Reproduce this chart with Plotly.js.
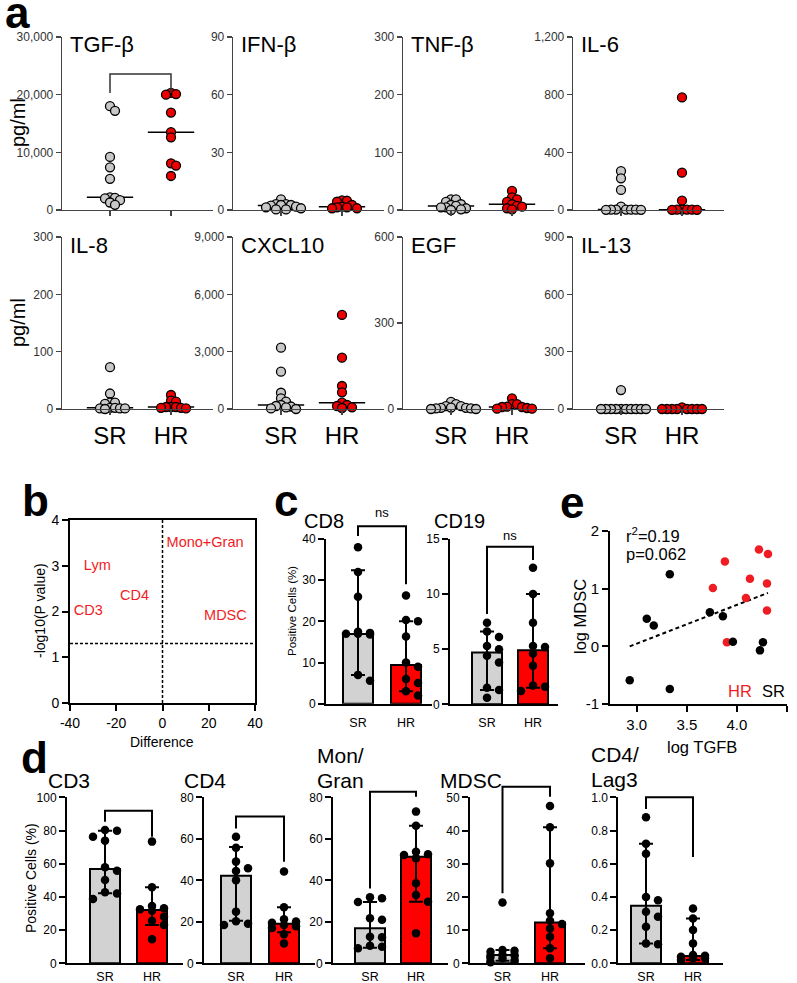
<!DOCTYPE html>
<html>
<head>
<meta charset="utf-8">
<script src="https://cdn.plot.ly/plotly-3.0.1.min.js"></script>
<style>
  html, body { margin: 0; padding: 0; background: #fff; }
  #chart { width: 797px; height: 983px; }
</style>
</head>
<body>
<div id="chart"></div>
<script>
// ---- a: cytokine levels (pg/ml), SR vs HR
const cytoNames = ['TGF-β', 'IFN-β', 'TNF-β', 'IL-6', 'IL-8', 'CXCL10', 'EGF', 'IL-13'];
const cytoMax = [30000, 90, 300, 1200, 300, 9000, 600, 900];
const cytoTicks = [[0, 10000, 20000, 30000], [0, 30, 60, 90], [0, 100, 200, 300], [0, 400, 800, 1200],
                   [0, 100, 200, 300], [0, 3000, 6000, 9000], [0, 300, 600], [0, 300, 600, 900]];
const groups = ['SR', 'HR'];

const srTGF = [18000, 17200, 9200, 7400, 5400, 2200, 2100, 2000, 1700, 1300, 900];
const hrTGF = [20300, 20100, 20000, 16900, 13500, 12600, 8100, 7700, 5900];
const srIFN = [5.5, 3.1, 3.1, 2.6, 2.6, 2.3, 1.8, 1.4, 0.9, 0.3, 0.3];
const hrIFN = [5.0, 4.8, 4.3, 2.6, 1.7, 1.4, 1.4, 0.9, 0.9];
const srTNF = [18.5, 18.5, 14, 10, 8.7, 7, 4.7, 4.7, 3, 1.2, 0];
const hrTNF = [33, 22, 18.5, 14, 10, 7, 5.8, 3, 1.2];
const srIL6 = [270, 220, 139, 23, 3, 3, 2, 2, 2, 1, 1];
const hrIL6 = [781, 259, 65, 3, 2, 2, 2, 1, 1];
const srIL8 = [73, 27, 11, 11, 9, 2, 2, 1, 1, 1, 0];
const hrIL8 = [24.4, 14.5, 12.8, 3.5, 3.5, 3.5, 2, 2, 1];
const srCXCL10 = [3209, 1953, 850, 560, 382, 209, 157, 130, 80, 30, 0];
const hrCXCL10 = [4921, 2687, 1204, 874, 330, 209, 157, 89, 52];
const srEGF = [25, 17, 10, 10, 5, 4, 4, 2, 2, 0, 0];
const hrEGF = [37, 17, 17, 8, 7, 7, 3.5, 1, 1];
const srIL13 = [99, 0, 0, 0, 0, 0, 0, 0, 0, 0, 0];
const hrIL13 = [9, 0, 0, 0, 0, 0, 0, 0, 0];

// ---- b: difference vs -log10(P)
const volcanoLabels = ['Lym', 'CD4', 'CD3', 'Mono+Gran', 'MDSC'];
const volcanoDiff = [-28.2, -12.1, -32.1, 18.4, 27.2];
const volcanoLogP = [2.98, 2.32, 2.0, 3.49, 1.90];

// ---- c, d: positive cells (%), bar = median, whiskers = CI
const cd8SR = [38, 32, 26, 17.5, 17.2, 17, 17, 16.8, 7, 5.6];
const cd8HR = [26.3, 20.3, 20, 16.3, 10, 9, 6, 5, 3, 2];
const cd8Bar = [16.9, 9.4], cd8Hi = [32.4, 20], cd8Lo = [7, 3];
const cd19SR = [7.4, 6.6, 6.1, 5.3, 5.0, 4.4, 3.8, 1.5, 1.3, 0.6];
const cd19HR = [12.4, 10, 7.4, 5.3, 5.2, 4.6, 3.5, 1.7, 1.6, 1.2];
const cd19Bar = [4.7, 4.9], cd19Hi = [6.6, 10], cd19Lo = [1.3, 1.5];

const cd3SR = [80.3, 79.9, 76.3, 73.9, 57.8, 55.8, 50.2, 42.8, 42, 38.7];
const cd3HR = [73.3, 45.8, 34.5, 33.2, 32.5, 31.7, 28, 25.7, 23.1, 14.5];
const cd3Bar = [56.8, 32.1], cd3Hi = [79.9, 45.8], cd3Lo = [42.2, 23];
const cd4SR = [61, 55.7, 49, 45.8, 44.5, 40, 24.9, 20.3, 19.1, 18.5];
const cd4HR = [44.2, 27, 21.2, 20.1, 19.5, 18.5, 17.8, 17, 14, 9.6];
const cd4Bar = [42.2, 19], cd4Hi = [56, 27], cd4Lo = [20.5, 15];
const monSR = [31.8, 31.3, 29.5, 21.7, 21, 12.8, 12.5, 8.5, 8, 7.2];
const monHR = [73.1, 66.3, 53.8, 52.5, 52.2, 50.6, 38.6, 32.9, 29.7, 14.5];
const monBar = [16.9, 51.4], monHi = [29.5, 66.3], monLo = [7.5, 29.7];
const mdscSR = [18.3, 4.0, 3.8, 3.5, 2.6, 2.4, 2.0, 1.5, 0.8, 0.3];
const mdscHR = [47.4, 41, 30.1, 15.1, 12.8, 11.8, 10.5, 8, 4.5, 1.5];
const mdscBar = [2.5, 12.3], mdscHi = [4.0, 41], mdscLo = [0.8, 4.5];
const lag3SR = [0.88, 0.72, 0.66, 0.40, 0.38, 0.31, 0.28, 0.22, 0.12, 0.115];
const lag3HR = [0.33, 0.27, 0.20, 0.12, 0.05, 0.045, 0.04, 0.03, 0.03, 0.02];
const lag3Bar = [0.347, 0.044], lag3Hi = [0.72, 0.27], lag3Lo = [0.12, 0.02];

// ---- e: log TGFB vs log MDSC
const tgfSR = [3.33, 3.10, 3.17, 3.73, 3.86, 3.96, 4.26, 4.23, 2.93, 3.33];
const mdscLogSR = [1.25, 0.48, 0.36, 0.59, 0.52, 0.08, 0.07, -0.07, -0.59, -0.74];
const tgfHR = [4.22, 4.31, 3.88, 3.76, 4.13, 4.30, 4.09, 4.30, 3.90];
const mdscLogHR = [1.68, 1.60, 1.47, 1.01, 1.17, 1.09, 0.84, 0.62, 0.07];

const W = 797, H = 983;
const FONT = '"Liberation Sans", Arial, sans-serif';
const GREY = '#c8c8c8', RED = '#ee0000', BARGREY = '#d2d2d2', BARRED = '#ff0000', TXTRED = '#ef1c24';

const layout = {
    width: W, height: H,
    margin: {l: 0, r: 0, t: 0, b: 0},
    paper_bgcolor: '#fff', plot_bgcolor: 'rgba(0,0,0,0)',
    showlegend: false,
    font: {family: FONT, color: '#000'},
    shapes: [], annotations: []
};
const traces = [];
let nAx = 0;

function addAxes(box, xr, yr, xo, yo) {
    nAx++;
    const s = nAx === 1 ? '' : String(nAx);
    layout['xaxis' + s] = Object.assign({domain: [box.l / W, box.r / W], range: xr, anchor: 'y' + s,
        showgrid: false, zeroline: false, fixedrange: true}, xo);
    layout['yaxis' + s] = Object.assign({domain: [1 - box.b / H, 1 - box.t / H], range: yr, anchor: 'x' + s,
        showgrid: false, zeroline: false, fixedrange: true}, yo);
    return {x: 'x' + s, y: 'y' + s, box, xr, yr};
}

function toPaper(ax, xv, yv) {
    const b = ax.box;
    const fx = (xv - ax.xr[0]) / (ax.xr[1] - ax.xr[0]);
    const fy = (yv - ax.yr[0]) / (ax.yr[1] - ax.yr[0]);
    return [(b.l + fx * (b.r - b.l)) / W, 1 - (b.b - fy * (b.b - b.t)) / H];
}

function bracket(ax, top, left, right, color, width) {
    const [x0, yT] = toPaper(ax, 0, top);
    const x1 = toPaper(ax, 1, top)[0];
    const yL = toPaper(ax, 0, left)[1], yR = toPaper(ax, 0, right)[1];
    layout.shapes.push({type: 'path', xref: 'paper', yref: 'paper',
        path: `M${x0},${yL} L${x0},${yT} L${x1},${yT} L${x1},${yR}`, line: {color, width}});
}

function note(text, x, y, size, extra) {
    layout.annotations.push(Object.assign({text, x: x / W, y: 1 - y / H, xref: 'paper', yref: 'paper',
        showarrow: false, xanchor: 'center', yanchor: 'middle',
        font: {family: FONT, size, color: '#000'}}, extra || {}));
}

function median(v) {
    const s = [...v].sort((a, b) => a - b), n = s.length;
    return n % 2 ? s[(n - 1) / 2] : (s[n / 2 - 1] + s[n / 2]) / 2;
}

// simple beeswarm: horizontal pixel offsets so dots don't pile up
function swarm(vals, pyu, step, d, maxK) {
    const order = vals.map((v, i) => i).sort((a, b) => vals[b] - vals[a]);
    const placed = [], off = vals.map(() => 0);
    order.forEach(i => {
        const y = vals[i] * pyu;
        let best = 0, bestGap = -1;
        for (let k = 0; k <= 2 * maxK; k++) {
            const o = (k % 2 ? 1 : -1) * Math.ceil(k / 2) * step;
            const gap = placed.length ? Math.min(...placed.map(p => Math.hypot(p[0] - o, p[1] - y))) : Infinity;
            if (gap >= d) { best = o; bestGap = gap; break; }
            if (gap > bestGap) { best = o; bestGap = gap; }
        }
        off[i] = best;
        placed.push([best, y]);
    });
    return off;
}

// ---------- panel a
const cytoSR = [srTGF, srIFN, srTNF, srIL6, srIL8, srCXCL10, srEGF, srIL13];
const cytoHR = [hrTGF, hrIFN, hrTNF, hrIL6, hrIL8, hrCXCL10, hrEGF, hrIL13];
const aAxes = [];
cytoNames.forEach((name, i) => {
    const row = Math.floor(i / 4), col = i % 4;
    const l = [62, 233, 403, 573][col];
    const box = {l, r: l + 151, t: row ? 237 : 37, b: row ? 409 : 210};
    const unit = 61;
    const ax = addAxes(box, [-48 / unit, 103 / unit], [0, cytoMax[i]],
        {tickvals: [0, 1], ticktext: groups, showticklabels: row === 1, ticks: 'outside', ticklen: 5,
         tickwidth: 1.3, tickcolor: '#444', showline: true, linecolor: '#444', linewidth: 1.3,
         tickfont: {size: 24, color: '#000'}},
        {tickvals: cytoTicks[i], tickformat: ',d', ticks: 'outside', ticklen: 5, tickwidth: 1.3,
         tickcolor: '#444', showline: true, linecolor: '#444', linewidth: 1.3,
         tickfont: {size: 12, color: '#333'}});
    aAxes.push(ax);
    const pyu = (box.b - box.t) / cytoMax[i];
    [cytoSR[i], cytoHR[i]].forEach((vals, g) => {
        const m = median(vals);
        traces.push({type: 'scatter', mode: 'lines', x: [g - 0.38, g + 0.38], y: [m, m],
            xaxis: ax.x, yaxis: ax.y, line: {color: '#000', width: 1.5}, cliponaxis: false, hoverinfo: 'skip'});
    });
    [cytoSR[i], cytoHR[i]].forEach((vals, g) => {
        const off = swarm(vals, pyu, 5, 5, 6);
        traces.push({type: 'scatter', mode: 'markers', x: vals.map((v, k) => g + off[k] / unit), y: vals,
            xaxis: ax.x, yaxis: ax.y, cliponaxis: false, name: groups[g],
            marker: {size: 9, color: g ? RED : GREY, line: {color: '#000', width: 1.3}}});
    });
    note(name, l + 6, row ? 245 : 44, 22, {xanchor: 'left'});
});
bracket(aAxes[0], 23600, 20300, 20300, '#333', 1.5);
note('pg/ml', 18, 123, 20, {textangle: -90});
note('pg/ml', 18, 323, 20, {textangle: -90});

// ---------- panel b
const boxAxis = {ticks: 'outside', ticklen: 6, tickwidth: 2, tickcolor: '#000', showline: true,
    linecolor: '#000', linewidth: 2};
const axB = addAxes({l: 70, r: 255, t: 520, b: 703}, [-40, 40], [0, 4],
    Object.assign({tickvals: [-40, -20, 0, 20, 40], ticktext: ['-40', '-20', '0', '20', '40'], mirror: true,
        tickfont: {size: 14}}, boxAxis),
    Object.assign({tickvals: [0, 1, 2, 3, 4], mirror: true, tickfont: {size: 14}}, boxAxis));
const pCut = -Math.log10(0.05);
layout.shapes.push({type: 'line', xref: axB.x, yref: axB.y, x0: 0, x1: 0, y0: 0, y1: 4,
    line: {color: '#000', width: 1.5, dash: '3px,2px'}});
layout.shapes.push({type: 'line', xref: axB.x, yref: axB.y, x0: -40, x1: 40, y0: pCut, y1: pCut,
    line: {color: '#000', width: 1.5, dash: '3px,2px'}});
traces.push({type: 'scatter', mode: 'text', x: volcanoDiff, y: volcanoLogP, text: volcanoLabels,
    textposition: 'middle center', textfont: {family: FONT, size: 14.5, color: TXTRED},
    xaxis: axB.x, yaxis: axB.y, cliponaxis: false, hoverinfo: 'skip'});
note('-log10(P value)', 40, 611, 14, {textangle: -90});
note('Difference', 162, 742, 14);

// ---------- panels c and d
function barPanel(p) {
    const unit = p.hr - p.sr;
    const ax = addAxes({l: p.l, r: p.r, t: p.t, b: p.b}, [(p.l - p.sr) / unit, (p.r - p.sr) / unit], [0, p.ymax],
        {tickvals: [0, 1], ticktext: groups, ticks: '', showline: true, linecolor: '#000', linewidth: 2,
         tickfont: {size: 12.5}, ticklabelstandoff: p.standoff},
        Object.assign({tickvals: p.ticks, tickformat: p.fmt || '', tickfont: {size: 12}}, boxAxis));
    traces.push({type: 'bar', x: [0, 1], y: p.bar, width: 30 / unit, xaxis: ax.x, yaxis: ax.y,
        marker: {color: [BARGREY, BARRED], line: {color: '#000', width: 2}},
        error_y: {type: 'data', symmetric: false, array: p.bar.map((v, i) => p.hi[i] - v),
                  arrayminus: p.bar.map((v, i) => v - p.lo[i]), color: '#000', thickness: 2, width: 7},
        hoverinfo: 'skip'});
    const pyu = (p.b - p.t) / p.ymax;
    [p.srPts, p.hrPts].forEach((vals, g) => {
        const off = swarm(vals, pyu, 12, 7.5, 1);
        traces.push({type: 'scatter', mode: 'markers', x: vals.map((v, k) => g + off[k] / unit), y: vals,
            xaxis: ax.x, yaxis: ax.y, cliponaxis: false, name: groups[g],
            marker: {size: 8.5, color: '#000'}});
    });
    bracket(ax, p.br[0], p.br[1], p.br[2], '#000', 2);
    return ax;
}

const axCD8 = barPanel({l: 326, r: 432, t: 539, b: 703.7, sr: 358, hr: 406, ymax: 40, ticks: [0, 10, 20, 30, 40],
    bar: cd8Bar, hi: cd8Hi, lo: cd8Lo, srPts: cd8SR, hrPts: cd8HR, br: [43.1, 40.7, 29], standoff: 6});
const axCD19 = barPanel({l: 450, r: 558, t: 539, b: 704.3, sr: 487, hr: 533, ymax: 15, ticks: [0, 5, 10, 15],
    bar: cd19Bar, hi: cd19Hi, lo: cd19Lo, srPts: cd19SR, hrPts: cd19HR, br: [14.3, 8.2, 13.1], standoff: 6});
[[axCD8, 46.5], [axCD19, 15.3]].forEach(([ax, v]) => {
    const [x, y] = toPaper(ax, 0.5, v);
    layout.annotations.push({text: 'ns', x, y, xref: 'paper', yref: 'paper', showarrow: false,
        font: {family: FONT, size: 13, color: '#000'}});
});
note('CD8', 302, 521, 20, {xanchor: 'left'});
note('CD19', 432, 521, 20, {xanchor: 'left'});
note('Positive Cells (%)', 292, 611, 11.5, {textangle: -90});

const dT = 797.3, dB = 963.3;
barPanel({l: 67, r: 183, t: dT, b: dB, sr: 105, hr: 152, ymax: 100, ticks: [0, 20, 40, 60, 80, 100],
    bar: cd3Bar, hi: cd3Hi, lo: cd3Lo, srPts: cd3SR, hrPts: cd3HR, br: [91.9, 85.3, 76.3], standoff: 1});
barPanel({l: 204, r: 315, t: dT, b: dB, sr: 236, hr: 284, ymax: 80, ticks: [0, 20, 40, 60, 80],
    bar: cd4Bar, hi: cd4Hi, lo: cd4Lo, srPts: cd4SR, hrPts: cd4HR, br: [70.7, 65, 49], standoff: 1});
barPanel({l: 333, r: 448, t: dT, b: dB, sr: 370, hr: 416, ymax: 80, ticks: [0, 20, 40, 60, 80],
    bar: monBar, hi: monHi, lo: monLo, srPts: monSR, hrPts: monHR, br: [82.7, 36, 80.3], standoff: 1});
barPanel({l: 470, r: 585, t: dT, b: dB, sr: 502.5, hr: 550, ymax: 50, ticks: [0, 10, 20, 30, 40, 50],
    bar: mdscBar, hi: mdscHi, lo: mdscLo, srPts: mdscSR, hrPts: mdscHR, br: [53.2, 21.1, 50.2], standoff: 1});
barPanel({l: 618.3, r: 723, t: dT, b: dB, sr: 646, hr: 693, ymax: 1, ticks: [0, 0.2, 0.4, 0.6, 0.8, 1.0],
    fmt: '.1f', bar: lag3Bar, hi: lag3Hi, lo: lag3Lo, srPts: lag3SR, hrPts: lag3HR, br: [1.0, 0.93, 0.64], standoff: 1});
note('CD3', 46, 780, 21, {xanchor: 'left'});
note('CD4', 182, 780, 21, {xanchor: 'left'});
note('Mon/', 315, 755, 21, {xanchor: 'left'});
note('Gran', 315, 780, 21, {xanchor: 'left'});
note('MDSC', 438, 780, 21, {xanchor: 'left'});
note('CD4/', 589, 754, 21, {xanchor: 'left'});
note('Lag3', 589, 779, 21, {xanchor: 'left'});
note('Positive Cells (%)', 31, 878, 14, {textangle: -90});

// ---------- panel e
const axE = addAxes({l: 610, r: 787, t: 531, b: 704}, [2.733, 4.5], [-1, 2],
    Object.assign({tickvals: [3.0, 3.5, 4.0, 4.5], tickformat: '.1f', tickfont: {size: 15}}, boxAxis),
    Object.assign({tickvals: [-1, 0, 1, 2], ticktext: ['-1', '0', '1', '2'], tickfont: {size: 15}}, boxAxis));
const allX = tgfSR.concat(tgfHR), allY = mdscLogSR.concat(mdscLogHR);
const mx = allX.reduce((a, b) => a + b) / allX.length, my = allY.reduce((a, b) => a + b) / allY.length;
let sxy = 0, sxx = 0;
allX.forEach((x, i) => { sxy += (x - mx) * (allY[i] - my); sxx += (x - mx) ** 2; });
const slope = sxy / sxx, icpt = my - slope * mx;
const xLo = Math.min(...allX), xHi = Math.max(...allX);
traces.push({type: 'scatter', mode: 'lines', x: [xLo, xHi], y: [icpt + slope * xLo, icpt + slope * xHi],
    xaxis: axE.x, yaxis: axE.y, line: {color: '#000', width: 2, dash: '4px,3px'}, hoverinfo: 'skip'});
traces.push({type: 'scatter', mode: 'markers', x: tgfHR, y: mdscLogHR, xaxis: axE.x, yaxis: axE.y,
    cliponaxis: false, name: 'HR', marker: {size: 8.5, color: TXTRED}});
traces.push({type: 'scatter', mode: 'markers', x: tgfSR, y: mdscLogSR, xaxis: axE.x, yaxis: axE.y,
    cliponaxis: false, name: 'SR', marker: {size: 8.5, color: '#000'}});
note('r<sup>2</sup>=0.19', 624, 535, 16.5, {xanchor: 'left'});
note('p=0.062', 624, 554, 16.5, {xanchor: 'left'});
note('HR', 740, 691, 16.5, {font: {family: FONT, size: 16.5, color: TXTRED}});
note('SR', 773, 691, 16.5);
note('log MDSC', 580, 617, 16.5, {textangle: -90});
note('log TGFB', 702, 747, 16.5);

// ---------- panel letters
const letterFont = {family: FONT, size: 44, color: '#000', weight: 'bold'};
[['a', 17, 13], ['b', 35, 500], ['c', 286, 500], ['d', 34, 757], ['e', 572, 502]].forEach(([t, x, y]) =>
    note('<b>' + t + '</b>', x, y, 44, {font: letterFont, borderpad: 0}));

Plotly.newPlot('chart', traces, layout, {staticPlot: true, displayModeBar: false});
</script>
</body>
</html>
